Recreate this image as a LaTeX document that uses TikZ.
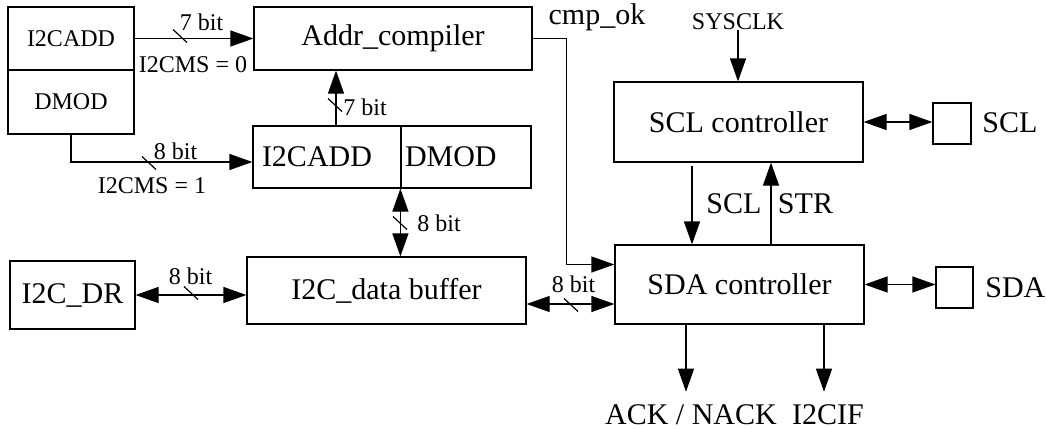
\documentclass[tikz,border=0pt]{standalone}
\usepackage{fontspec}
\setmainfont{Liberation Serif}
\usetikzlibrary{arrows.meta}
\newcommand{\grosz}{\fontsize{15}{18}\selectfont}
\newcommand{\klein}{\fontsize{12}{14}\selectfont}
\tikzset{
	block/.style={draw, line width=0.6pt, inner sep=0pt, font=\grosz},
	txt/.style={inner sep=0pt, anchor=base, font=\grosz},
	bitlbl/.style={inner sep=0pt, anchor=base, font=\klein},
	pfeil/.style={line width=0.6pt, -{Triangle[length=11.5pt,width=8pt]}},
	doppelpfeil/.style={line width=0.6pt, {Triangle[length=11.5pt,width=8pt]}-{Triangle[length=11.5pt,width=8pt]}},
}
\begin{document}
\begin{tikzpicture}[x=0.5pt,y=-0.5pt]
		\useasboundingbox (0,0) rectangle (1046,429);
		
		% zeichne Bloecke
		\node[block, font=\klein, minimum width=63pt, minimum height=31.5pt] (addreg) at (71,38.5) {I2CADD};
		\node[block, font=\klein, minimum width=63pt, minimum height=32pt] (modreg) at (71,102) {DMOD};
		\node[block, minimum width=139pt, minimum height=31.5pt] (addr) at (393,38.5) {Addr\_compiler};
		\node[block, text width=65pt, inner xsep=4.5pt, align=left, minimum height=31pt] (midadd) at (327,157) {I2CADD};
		\node[block, text width=61pt, inner xsep=2pt, align=left, minimum height=31pt] (midmod) at (466,157) {DMOD};
		\node[block, minimum width=139.5pt, minimum height=33.5pt] (buf) at (386.5,290.5) {I2C\_data buffer};
		\node[block, minimum width=62.5pt, minimum height=34pt] (dr) at (72.5,295) {I2C\_DR};
		\node[block, minimum width=124.5pt, minimum height=40pt] (scl) at (738.5,122) {SCL controller};
		\node[block, minimum width=124.5pt, minimum height=39.5pt] (sda) at (739.5,284.5) {SDA controller};
		\node[block, minimum width=19pt, minimum height=20.5pt] (sclpad) at (952,123.5) {};
		\node[block, minimum width=18.5pt, minimum height=20.5pt] (sdapad) at (954.5,287.5) {};
		
		% zeichne Labels
		\node[txt] (cmpok) at (597,24) {cmp\_ok};
		\node[bitlbl] (sysclk) at (738,29) {SYSCLK};
		\node[txt, anchor=base west] (scltxt) at (982,132) {SCL};
		\node[txt, anchor=base west] (sdatxt) at (985,297) {SDA};
		\node[txt] (scllbl) at (734,213) {SCL};
		\node[txt] (strlbl) at (805.5,213) {STR};
		\node[txt] (ack) at (691,424) {ACK / NACK};
		\node[txt] (i2cif) at (828,424) {I2CIF};
		\node[bitlbl] (bit7a) at (201.5,30) {7 bit};
		\node[bitlbl] (ms0) at (193,72) {I2CMS = 0};
		\node[bitlbl] (bit7b) at (365,115) {7 bit};
		\node[bitlbl] (bit8a) at (175.5,159) {8 bit};
		\node[bitlbl] (ms1) at (152,193) {I2CMS = 1};
		\node[bitlbl] (bit8b) at (439,231) {8 bit};
		\node[bitlbl] (bit8c) at (190.5,284) {8 bit};
		\node[bitlbl] (bit8d) at (573.5,292) {8 bit};
		
		% zeichne Verbindungen
		\draw[pfeil] (addreg.east) -- (addreg.east -| addr.west);
		\draw[pfeil] ([xshift=4.5pt]midadd.north) -- ([xshift=4.5pt]midadd.north |- addr.south);
		\draw[pfeil] (modreg.south) |- ([yshift=-2.5pt]midadd.west);
		\draw[pfeil] (addr.east) -- ++(17pt,0) |- ([yshift=10pt]sda.west);
		\draw[pfeil] (sysclk.south) -- (sysclk.south |- scl.north);
		\draw[pfeil, shorten <=1.5pt] ([xshift=-23.25pt]scl.south) -- ([xshift=-23.25pt]scl.south |- sda.north);
		\draw[pfeil] ([xshift=15.75pt]sda.north) -- ([xshift=15.75pt]sda.north |- scl.south);
		\draw[doppelpfeil] (scl.east) -- (scl.east -| sclpad.west);
		\draw[doppelpfeil] (sda.east) -- (sda.east -| sdapad.west);
		\draw[pfeil, shorten >=6pt] ([xshift=-26.75pt]sda.south) -- ([xshift=-26.75pt]sda.south |- ack.north);
		\draw[pfeil, shorten >=6pt] ([xshift=42.25pt]sda.south) -- ([xshift=42.25pt]sda.south |- i2cif.north);
		\draw[doppelpfeil] (midmod.south west) -- (midmod.south west |- buf.north);
		\draw[doppelpfeil] (dr.east) -- (dr.east -| buf.west);
		\draw[doppelpfeil] ([yshift=-6.75pt]buf.east) -- ([yshift=-6.75pt]buf.east -| sda.west);
		
		% zeichne Busbreiten
		\foreach \x/\y in {180/36, 335/105, 149/163, 400/223, 191/293, 571/305}
			\draw[line width=0.6pt] (\x-7,\y-6.5) -- (\x+7,\y+6.5);
	\end{tikzpicture}
\end{document}
